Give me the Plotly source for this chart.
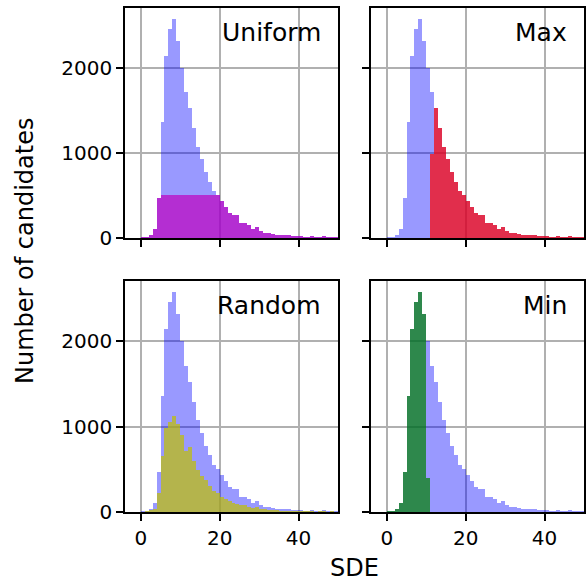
import plotly.graph_objects as go

# SDE histogram bins (left edges, bin width 1)
bin_start = list(range(0, 50))

# All candidates (background histogram)
all_counts = [8, 15, 35, 106, 470, 1360, 2140, 2458, 2576, 2318,
              2004, 1712, 1525, 1292, 1076, 926, 775, 662, 552, 503,
              437, 366, 295, 268, 268, 177, 177, 150, 106, 130,
              83, 55, 55, 45, 40, 36, 32, 30, 28, 28,
              20, 16, 15, 20, 12, 16, 20, 12, 15, 12]

uniform_counts = [8, 15, 35, 106, 470, 500, 500, 500, 500, 500,
                  500, 500, 500, 500, 500, 500, 500, 500, 500, 500,
                  437, 366, 295, 268, 268, 177, 177, 150, 106, 130,
                  83, 55, 55, 45, 40, 36, 32, 30, 28, 28,
                  20, 16, 15, 20, 12, 16, 20, 12, 15, 12]

max_counts = [0, 0, 0, 0, 0, 0, 0, 0, 0, 0,
              0, 990, 1525, 1292, 1076, 926, 775, 662, 552, 503,
              437, 366, 295, 268, 268, 177, 177, 150, 106, 130,
              83, 55, 55, 45, 40, 36, 32, 30, 28, 28,
              20, 16, 15, 20, 12, 16, 20, 12, 15, 12]

random_counts = [3, 8, 18, 40, 224, 650, 984, 1059, 1126, 1028,
                 898, 720, 756, 598, 492, 425, 374, 307, 248, 228,
                 177, 150, 130, 106, 90, 83, 80, 63, 51, 59,
                 39, 31, 24, 22, 18, 16, 14, 13, 12, 11,
                 9, 8, 7, 8, 5, 6, 7, 5, 6, 5]

min_counts = [8, 15, 35, 106, 470, 1360, 2140, 2458, 2576, 2318,
              395, 0, 0, 0, 0, 0, 0, 0, 0, 0,
              0, 0, 0, 0, 0, 0, 0, 0, 0, 0,
              0, 0, 0, 0, 0, 0, 0, 0, 0, 0,
              0, 0, 0, 0, 0, 0, 0, 0, 0, 0]

panel_names = ["Uniform", "Max", "Random", "Min"]
panel_series = [uniform_counts, max_counts, random_counts, min_counts]
panel_colors = ["rgba(191,0,191,0.7)", "rgba(255,0,0,0.7)",
                "rgba(191,191,0,0.7)", "rgba(0,128,0,0.7)"]
x_ticks = [0, 20, 40]
y_ticks = [0, 1000, 2000]

W, H = 586, 583
FONT = "DejaVu Sans"

xdoms = [[125 / W, 338 / W], [371 / W, 584 / W]]
ydoms = [[1 - 238 / H, 1 - 8 / H], [1 - 512 / H, 1 - 281 / H]]

fig = go.Figure()
layout = dict(
    width=W, height=H,
    margin=dict(l=0, r=0, t=0, b=0),
    paper_bgcolor="white", plot_bgcolor="white",
    barmode="overlay", bargap=0, showlegend=False,
    font=dict(family=FONT, size=20, color="black"),
)

annotations = []
for i, (name, series, color) in enumerate(zip(panel_names, panel_series, panel_colors)):
    row, col = divmod(i, 2)
    n = i + 1
    xa = "x" if n == 1 else f"x{n}"
    ya = "y" if n == 1 else f"y{n}"
    fig.add_trace(go.Bar(x=bin_start, y=all_counts, width=1, offset=0,
                         marker=dict(color="rgba(0,0,255,0.4)", line=dict(width=0)),
                         xaxis=xa, yaxis=ya, hoverinfo="skip"))
    fig.add_trace(go.Bar(x=bin_start, y=series, width=1, offset=0,
                         marker=dict(color=color, line=dict(width=0)),
                         xaxis=xa, yaxis=ya, hoverinfo="skip"))
    common = dict(ticks="outside", ticklen=7, tickwidth=1.6, tickcolor="black",
                  showline=True, linecolor="black", linewidth=1.6, mirror=True,
                  showgrid=True, gridcolor="#b0b0b0", gridwidth=1.6,
                  zeroline=False, layer="above traces", automargin=False,
                  tickfont=dict(family=FONT, size=20, color="black"))
    xkey = "xaxis" if n == 1 else f"xaxis{n}"
    ykey = "yaxis" if n == 1 else f"yaxis{n}"
    layout[xkey] = dict(common, domain=xdoms[col], anchor=ya, range=[-4, 50],
                        tickvals=x_ticks, showticklabels=(row == 1))
    layout[ykey] = dict(common, domain=ydoms[row], anchor=xa, range=[0, 2705],
                        tickvals=y_ticks, showticklabels=(col == 0))
    annotations.append(dict(text=name, xref=f"{xa} domain", yref=f"{ya} domain",
                            x=0.93, y=1 - 24 / 230, xanchor="right", yanchor="middle",
                            showarrow=False, font=dict(family=FONT, size=25, color="black")))

annotations.append(dict(text="SDE", xref="paper", yref="paper", x=354.5 / W, y=1 - 568 / H,
                        xanchor="center", yanchor="middle", showarrow=False,
                        font=dict(family=FONT, size=24, color="black")))
annotations.append(dict(text="Number of candidates", xref="paper", yref="paper",
                        x=25 / W, y=1 - 251 / H, textangle=-90,
                        xanchor="center", yanchor="middle", showarrow=False,
                        font=dict(family=FONT, size=24, color="black")))
layout["annotations"] = annotations
fig.update_layout(**layout)
fig.write_html("out.html", config={"displayModeBar": False},
               post_script="document.body.style.margin='0';")
